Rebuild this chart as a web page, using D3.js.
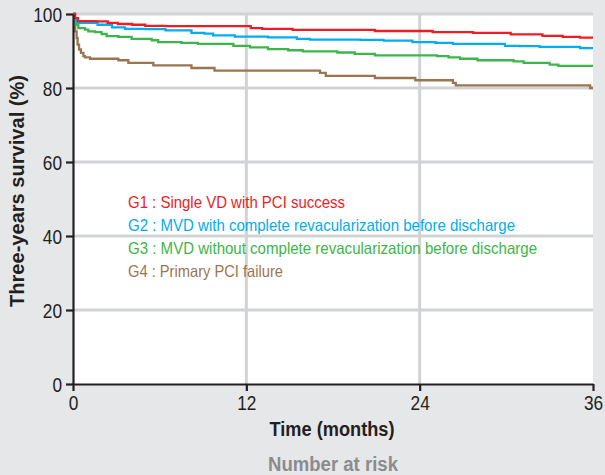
<!DOCTYPE html>
<html>
<head>
<meta charset="utf-8">
<script src="https://cdn.jsdelivr.net/npm/d3@7"></script>
<style>
  body { margin: 0; background: #e6e7e9; }
  svg { display: block; }
</style>
</head>
<body>
<div id="chart"></div>
<script>
// Kaplan-Meier steps: [month, survival %]
const g1 = [[0,100],[0.15,98.9],[0.35,98.1],[1.6,98.0],[2.4,97.6],[3.1,97.3],[4.1,97.1],[5.0,96.8],[6.4,96.7],[12.3,96.2],[13.1,96.0],[15.2,95.7],[20.9,95.4],[24.9,95.1],[27.7,94.9],[30.3,94.5],[32.5,94.1],[33.9,93.8],[35.1,93.6],[36,93.6]];
const g2 = [[0,100],[0.12,98.6],[0.2,98.0],[0.35,97.6],[1.7,97.1],[2.7,96.4],[3.6,96.0],[5.0,95.9],[6.4,95.6],[8.2,94.9],[9.1,94.7],[9.7,94.2],[11.2,93.9],[13.5,93.7],[15.5,93.3],[16.4,93.1],[19.9,93.0],[21.5,92.8],[23.5,92.4],[25.1,92.2],[26.3,91.9],[29.9,91.4],[30.9,91.3],[32.3,91.1],[35.1,90.8],[36,90.8]];
const g3 = [[0,100],[0.1,98.2],[0.19,97.1],[0.37,96.2],[0.83,95.8],[1.06,95.3],[1.52,95.1],[1.98,94.6],[2.33,94.0],[3.14,93.8],[4.06,93.3],[5.45,92.9],[5.9,92.4],[7.5,92.2],[8.65,91.9],[11.1,91.4],[12.25,91.0],[13.5,90.5],[14.9,90.2],[15.9,89.9],[18.3,89.6],[19.5,89.2],[20.9,88.8],[25.2,88.6],[26.0,88.3],[26.8,87.9],[28.0,87.5],[30.5,87.2],[31.2,86.8],[33.0,86.3],[33.6,86.0],[36,86.0]];
const g4 = [[0,100],[0.08,97.5],[0.15,95.3],[0.25,93.5],[0.32,91.7],[0.42,90.4],[0.55,89.5],[0.72,88.6],[0.83,88.3],[1.18,87.9],[3.14,87.5],[3.83,86.8],[5.56,86.1],[8.2,85.4],[9.8,84.7],[17.1,84.1],[17.5,83.3],[20.9,82.7],[23.7,82.1],[26.3,81.4],[26.5,80.7],[35.8,80.0],[36,80.0]];

const groups = [
  { name: "G1 : Single VD with PCI success", data: g1, color: "#ee1d25", len: 217 },
  { name: "G2 : MVD with complete revacularization before discharge", data: g2, color: "#00aeef", len: 387 },
  { name: "G3 : MVD without complete revacularization before discharge", data: g3, color: "#3cb64a", len: 409 },
  { name: "G4 : Primary PCI failure", data: g4, color: "#9a7650", len: 155 }
];

const xTicks = [0, 12, 24, 36];
const yTicks = [0, 20, 40, 60, 80, 100];

const width = 605, height = 475;
const margin = { top: 14, right: 12, bottom: 91, left: 73 };
const innerW = width - margin.left - margin.right;
const innerH = height - margin.top - margin.bottom;
const font = "'Liberation Sans', Arial, sans-serif";

const svg = d3.select("#chart").append("svg")
    .attr("width", width)
    .attr("height", height)
    .style("background", "#e6e7e9");

const g = svg.append("g")
    .attr("transform", `translate(${margin.left},${margin.top})`);

const x = d3.scaleLinear().domain([0, 36]).range([0, innerW]);
const y = d3.scaleLinear().domain([0, 100]).range([innerH, 0]);

// white plot area
g.append("rect")
    .attr("width", innerW)
    .attr("height", innerH)
    .attr("fill", "#fff");

// grid
g.selectAll(".hgrid")
    .data(yTicks.filter(d => d > 0))
    .enter().append("line")
    .attr("x1", 0).attr("x2", innerW)
    .attr("y1", d => y(d)).attr("y2", d => y(d))
    .attr("stroke", "#d2d3d5")
    .attr("stroke-width", 3);

g.selectAll(".vgrid")
    .data(xTicks.filter(d => d > 0 && d < 36))
    .enter().append("line")
    .attr("x1", d => x(d)).attr("x2", d => x(d))
    .attr("y1", 0).attr("y2", innerH)
    .attr("stroke", "#d2d3d5")
    .attr("stroke-width", 3);

// legend
groups.forEach((d, i) => {
    g.append("text")
        .attr("x", 55)
        .attr("y", 194 + i * 23)
        .attr("fill", d.color)
        .attr("textLength", d.len)
        .attr("lengthAdjust", "spacingAndGlyphs")
        .style("font-family", font)
        .style("font-size", "16.5px")
        .text(d.name);
});

// survival curves
const line = d3.line()
    .x(d => x(d[0]))
    .y(d => y(d[1]))
    .curve(d3.curveStepAfter);

g.selectAll(".curve")
    .data(groups.slice().reverse())
    .enter().append("path")
    .attr("d", d => line(d.data))
    .attr("fill", "none")
    .attr("stroke", d => d.color)
    .attr("stroke-width", 2.3);

// axes
const xAxis = g.append("g")
    .attr("transform", `translate(0,${innerH})`)
    .call(d3.axisBottom(x).tickValues(xTicks).tickSize(7).tickSizeOuter(0).tickPadding(4));

const yAxis = g.append("g")
    .call(d3.axisLeft(y).tickValues(yTicks).tickSize(7).tickSizeOuter(0).tickPadding(4));

[xAxis, yAxis].forEach(a => {
    a.select(".domain").attr("stroke", "#231f20").attr("stroke-width", 2.2);
    a.selectAll(".tick line").attr("stroke", "#231f20").attr("stroke-width", 2.2);
    a.selectAll("text")
        .attr("fill", "#231f20")
        .attr("textLength", d => String(d).length * 9.6)
        .attr("lengthAdjust", "spacingAndGlyphs")
        .style("font-family", font)
        .style("font-size", "20px");
});
xAxis.selectAll("text").attr("dy", "0.75em");
yAxis.selectAll("text").attr("dy", "0.36em");

// axis labels
svg.append("text")
    .attr("transform", "rotate(-90)")
    .attr("x", -191)
    .attr("y", 24)
    .attr("text-anchor", "middle")
    .attr("fill", "#231f20")
    .attr("textLength", 232)
    .attr("lengthAdjust", "spacingAndGlyphs")
    .style("font-family", font)
    .style("font-weight", "bold")
    .style("font-size", "20px")
    .text("Three-years survival (%)");

svg.append("text")
    .attr("x", margin.left + x(18) - 1)
    .attr("y", 436)
    .attr("text-anchor", "middle")
    .attr("fill", "#231f20")
    .attr("textLength", 125)
    .attr("lengthAdjust", "spacingAndGlyphs")
    .style("font-family", font)
    .style("font-weight", "bold")
    .style("font-size", "20px")
    .text("Time (months)");

svg.append("text")
    .attr("x", margin.left + x(18))
    .attr("y", 471)
    .attr("text-anchor", "middle")
    .attr("fill", "#8b8c8e")
    .attr("textLength", 130)
    .attr("lengthAdjust", "spacingAndGlyphs")
    .style("font-family", font)
    .style("font-weight", "bold")
    .style("font-size", "20px")
    .text("Number at risk");
</script>
</body>
</html>
